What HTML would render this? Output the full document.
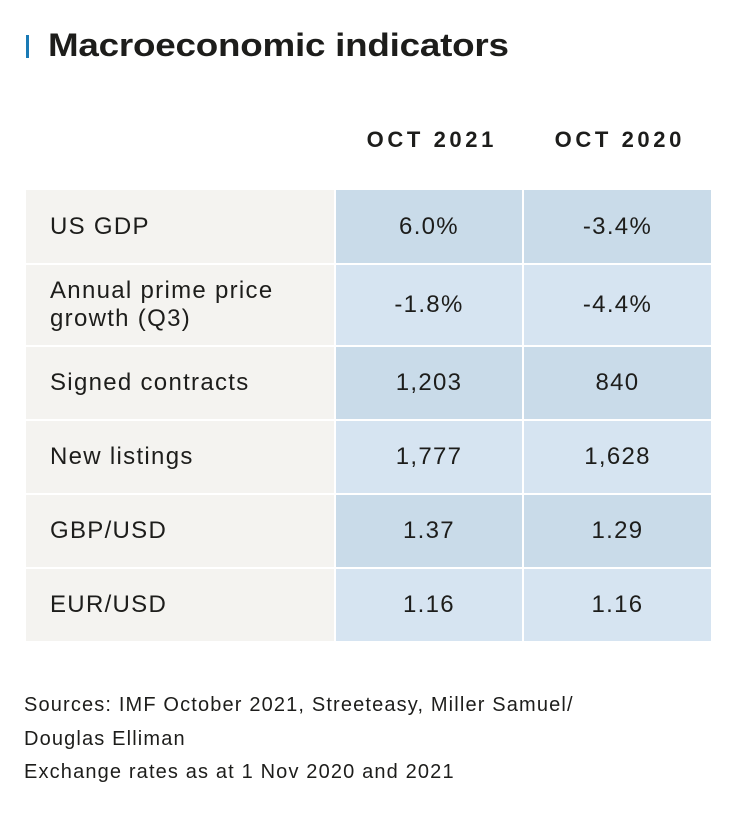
<!DOCTYPE html><html><head><style>
body{margin:0;width:731px;height:818px;background:#fff;font-family:"Liberation Sans",sans-serif;color:#1d1d1b;position:relative;overflow:hidden}
.a{position:absolute}
.bar{left:26px;top:35px;width:3px;height:23px;background:#1a7ab5}
.t{left:48px;top:27px;font-size:32px;font-weight:bold;letter-spacing:-0.2px;transform:scaleX(1.15);transform-origin:left top;white-space:nowrap}
.h{top:127px;font-size:22px;font-weight:bold;letter-spacing:3.6px;text-align:center;width:188px;text-indent:3.6px}
.c{display:flex;align-items:center;font-size:24px;letter-spacing:1.3px;white-space:nowrap}
.l{left:26px;width:308px;background:#f4f3f0;padding-left:24px;box-sizing:border-box;line-height:28px}
.v{justify-content:center}
.s{left:24px;font-size:20px;letter-spacing:1.15px;white-space:nowrap}
</style></head><body>
<div class="a bar"></div>
<div class="a t">Macroeconomic indicators</div>
<div class="a h" style="left:336px">OCT 2021</div>
<div class="a h" style="left:524px">OCT 2020</div>
<div class="a c l" style="top:190px;height:73px">US GDP</div>
<div class="a c v" style="left:336px;width:186px;top:190px;height:73px;background:#c9dbe9">6.0%</div>
<div class="a c v" style="left:524px;width:187px;top:190px;height:73px;background:#c9dbe9">-3.4%</div>
<div class="a c l" style="top:265px;height:80px">Annual prime price<br>growth (Q3)</div>
<div class="a c v" style="left:336px;width:186px;top:265px;height:80px;background:#d6e4f1">-1.8%</div>
<div class="a c v" style="left:524px;width:187px;top:265px;height:80px;background:#d6e4f1">-4.4%</div>
<div class="a c l" style="top:347px;height:72px">Signed contracts</div>
<div class="a c v" style="left:336px;width:186px;top:347px;height:72px;background:#c9dbe9">1,203</div>
<div class="a c v" style="left:524px;width:187px;top:347px;height:72px;background:#c9dbe9">840</div>
<div class="a c l" style="top:421px;height:72px">New listings</div>
<div class="a c v" style="left:336px;width:186px;top:421px;height:72px;background:#d6e4f1">1,777</div>
<div class="a c v" style="left:524px;width:187px;top:421px;height:72px;background:#d6e4f1">1,628</div>
<div class="a c l" style="top:495px;height:72px">GBP/USD</div>
<div class="a c v" style="left:336px;width:186px;top:495px;height:72px;background:#c9dbe9">1.37</div>
<div class="a c v" style="left:524px;width:187px;top:495px;height:72px;background:#c9dbe9">1.29</div>
<div class="a c l" style="top:569px;height:72px">EUR/USD</div>
<div class="a c v" style="left:336px;width:186px;top:569px;height:72px;background:#d6e4f1">1.16</div>
<div class="a c v" style="left:524px;width:187px;top:569px;height:72px;background:#d6e4f1">1.16</div>
<div class="a s" style="top:694px">Sources: IMF October 2021, Streeteasy, Miller Samuel/</div>
<div class="a s" style="top:728px">Douglas Elliman</div>
<div class="a s" style="top:761px">Exchange rates as at 1 Nov 2020 and 2021</div>
</body></html>
